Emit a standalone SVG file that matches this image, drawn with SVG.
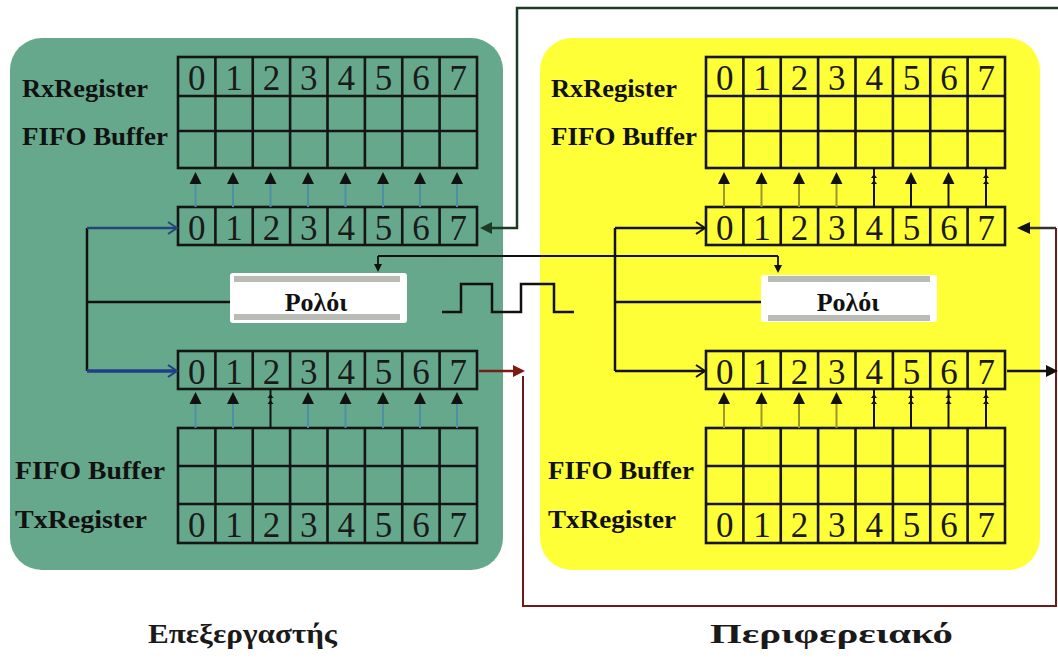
<svg xmlns="http://www.w3.org/2000/svg" xmlns:xlink="http://www.w3.org/1999/xlink" width="1058" height="658" viewBox="0 0 1058 658">
<style>
.grid{fill:none;stroke:#151515;stroke-width:2.6}
.num{font-family:"Liberation Serif","Times New Roman",serif;font-size:35px;fill:#1a1a1a;text-anchor:middle}
.lbl{font-family:"Liberation Serif","Times New Roman",serif;font-size:25px;font-weight:bold;fill:#111}
.clk{font-family:"Liberation Serif","Times New Roman",serif;font-size:26px;font-weight:bold;fill:#111;text-anchor:middle}
.title{font-family:"Liberation Serif","Times New Roman",serif;font-size:27px;font-weight:bold;fill:#1a1a1a}
.wire{fill:none;stroke:#111;stroke-width:2.5}
.band{fill:#b9bcb4}
.head{fill:#111}
</style>
<defs>
<g id="colsTall">
<path fill="none" stroke="#151515" stroke-width="2.6" d="M37.4 0V111M74.75 0V111M112.1 0V111M149.5 0V111M186.9 0V111M224.25 0V111M261.6 0V111"/>
</g>
<g id="colsShort">
<path fill="none" stroke="#151515" stroke-width="2.6" d="M37.4 0V38M74.75 0V38M112.1 0V38M149.5 0V38M186.9 0V38M224.25 0V38M261.6 0V38"/>
</g>
<g id="bigArrow"><polygon fill="#111" points="0,0 -6,12 6,12"/></g>
<g id="smallArrow"><path d="M-3,2 L0,-2 L3,2 Z M-3,8 L0,4 L3,8 Z" fill="#111"/></g>
</defs>
<rect width="1058" height="658" fill="#ffffff"/>

<g id="cpu-panel">
<rect x="10" y="38" width="493" height="532" rx="32" fill="#66a88c"/>
</g>
<g id="periph-panel">
<rect x="540" y="38" width="500" height="532" rx="32" fill="#ffff38"/>
</g>

<!-- CPU side -->
<g id="cpu-rx">
<rect class="grid" x="178" y="57" width="299" height="111"/>
<path class="grid" d="M178 96H477M178 131H477"/>
<use xlink:href="#colsTall" x="178" y="57"/>
<g class="num"><text x="196.7" y="90">0</text><text x="234.1" y="90">1</text><text x="271.4" y="90">2</text><text x="308.8" y="90">3</text><text x="346.2" y="90">4</text><text x="383.6" y="90">5</text><text x="420.9" y="90">6</text><text x="458.3" y="90">7</text></g>
<text class="lbl" x="22" y="97" textLength="126" lengthAdjust="spacingAndGlyphs">RxRegister</text>
<text class="lbl" x="22" y="145" textLength="146" lengthAdjust="spacingAndGlyphs">FIFO Buffer</text>
</g>
<g id="cpu-rx-shift">
<rect class="grid" x="178" y="207" width="299" height="38"/>
<use xlink:href="#colsShort" x="178" y="207"/>
<g class="num"><text x="196.7" y="240">0</text><text x="234.1" y="240">1</text><text x="271.4" y="240">2</text><text x="308.8" y="240">3</text><text x="346.2" y="240">4</text><text x="383.6" y="240">5</text><text x="420.9" y="240">6</text><text x="458.3" y="240">7</text></g>
</g>
<g id="cpu-clock">
<rect x="230" y="273" width="177" height="50" rx="3" fill="#ffffff"/>
<rect class="band" x="234" y="276" width="166" height="6"/>
<rect class="band" x="234" y="314" width="166" height="6"/>
<text class="clk" x="316" y="311">Ρολόι</text>
</g>
<g id="cpu-tx-shift">
<rect class="grid" x="178" y="351" width="299" height="38"/>
<use xlink:href="#colsShort" x="178" y="351"/>
<g class="num"><text x="196.7" y="384">0</text><text x="234.1" y="384">1</text><text x="271.4" y="384">2</text><text x="308.8" y="384">3</text><text x="346.2" y="384">4</text><text x="383.6" y="384">5</text><text x="420.9" y="384">6</text><text x="458.3" y="384">7</text></g>
</g>
<g id="cpu-tx">
<rect class="grid" x="178" y="428" width="299" height="115"/>
<path class="grid" d="M178 466H477M178 504H477"/>
<path class="grid" d="M215.4 428V543M252.75 428V543M290.1 428V543M327.5 428V543M364.9 428V543M402.25 428V543M439.6 428V543"/>
<g class="num"><text x="196.7" y="537">0</text><text x="234.1" y="537">1</text><text x="271.4" y="537">2</text><text x="308.8" y="537">3</text><text x="346.2" y="537">4</text><text x="383.6" y="537">5</text><text x="420.9" y="537">6</text><text x="458.3" y="537">7</text></g>
<text class="lbl" x="15" y="479" textLength="150" lengthAdjust="spacingAndGlyphs">FIFO Buffer</text>
<text class="lbl" x="15" y="528" textLength="132" lengthAdjust="spacingAndGlyphs">TxRegister</text>
</g>

<!-- Peripheral side -->
<g id="periph-rx">
<rect class="grid" x="706" y="57" width="299" height="111"/>
<path class="grid" d="M706 96H1005M706 131H1005"/>
<use xlink:href="#colsTall" x="706" y="57"/>
<g class="num"><text x="724.7" y="90">0</text><text x="762.1" y="90">1</text><text x="799.4" y="90">2</text><text x="836.8" y="90">3</text><text x="874.2" y="90">4</text><text x="911.6" y="90">5</text><text x="948.9" y="90">6</text><text x="986.3" y="90">7</text></g>
<text class="lbl" x="551" y="97" textLength="126" lengthAdjust="spacingAndGlyphs">RxRegister</text>
<text class="lbl" x="551" y="145" textLength="146" lengthAdjust="spacingAndGlyphs">FIFO Buffer</text>
</g>
<g id="periph-rx-shift">
<rect class="grid" x="706" y="207" width="299" height="38"/>
<use xlink:href="#colsShort" x="706" y="207"/>
<g class="num"><text x="724.7" y="240">0</text><text x="762.1" y="240">1</text><text x="799.4" y="240">2</text><text x="836.8" y="240">3</text><text x="874.2" y="240">4</text><text x="911.6" y="240">5</text><text x="948.9" y="240">6</text><text x="986.3" y="240">7</text></g>
</g>
<g id="periph-clock">
<rect x="761" y="275" width="176" height="47" rx="3" fill="#ffffff"/>
<rect class="band" x="768" y="276" width="162" height="6"/>
<rect class="band" x="768" y="315" width="162" height="6"/>
<text class="clk" x="848" y="311">Ρολόι</text>
</g>
<g id="periph-tx-shift">
<rect class="grid" x="706" y="351" width="299" height="38"/>
<use xlink:href="#colsShort" x="706" y="351"/>
<g class="num"><text x="724.7" y="384">0</text><text x="762.1" y="384">1</text><text x="799.4" y="384">2</text><text x="836.8" y="384">3</text><text x="874.2" y="384">4</text><text x="911.6" y="384">5</text><text x="948.9" y="384">6</text><text x="986.3" y="384">7</text></g>
</g>
<g id="periph-tx">
<rect class="grid" x="706" y="428" width="299" height="115"/>
<path class="grid" d="M706 466H1005M706 504H1005"/>
<path class="grid" d="M743.4 428V543M780.75 428V543M818.1 428V543M855.5 428V543M892.9 428V543M930.25 428V543M967.6 428V543"/>
<g class="num"><text x="724.7" y="537">0</text><text x="762.1" y="537">1</text><text x="799.4" y="537">2</text><text x="836.8" y="537">3</text><text x="874.2" y="537">4</text><text x="911.6" y="537">5</text><text x="948.9" y="537">6</text><text x="986.3" y="537">7</text></g>
<text class="lbl" x="548" y="479" textLength="146" lengthAdjust="spacingAndGlyphs">FIFO Buffer</text>
<text class="lbl" x="548" y="528" textLength="128" lengthAdjust="spacingAndGlyphs">TxRegister</text>
</g>

<g id="clock-wave">
<path d="M442 312H461V284H492V312H521V284H554V312H574" fill="none" stroke="#111" stroke-width="2.5"/>
</g>

<g id="titles">
<text class="title" x="148" y="643" textLength="189" lengthAdjust="spacingAndGlyphs">Επεξεργαστής</text>
<text class="title" x="710" y="643" textLength="243" lengthAdjust="spacingAndGlyphs">Περιφερειακό</text>
</g>

<g id="connectors">
<g stroke="#4f8fa6" stroke-width="2">
<path d="M195.5 184V207M233 184V207M270.5 184V207M308 184V207M345.5 184V207M383 184V207M420 184V207M457 184V207"/>
<path d="M195.5 404V428M233 404V428M308 404V428M345.5 404V428M383 404V428M420 404V428M457 404V428"/>
</g>
<path d="M270.5 389V428" stroke="#111" stroke-width="2"/>
<use xlink:href="#bigArrow" x="195.5" y="172"/><use xlink:href="#bigArrow" x="233" y="172"/><use xlink:href="#bigArrow" x="270.5" y="172"/><use xlink:href="#bigArrow" x="308" y="172"/><use xlink:href="#bigArrow" x="345.5" y="172"/><use xlink:href="#bigArrow" x="383" y="172"/><use xlink:href="#bigArrow" x="420" y="172"/><use xlink:href="#bigArrow" x="457" y="172"/>
<use xlink:href="#bigArrow" x="195.5" y="392"/><use xlink:href="#bigArrow" x="233" y="392"/><use xlink:href="#smallArrow" x="270.5" y="396"/><use xlink:href="#bigArrow" x="308" y="392"/><use xlink:href="#bigArrow" x="345.5" y="392"/><use xlink:href="#bigArrow" x="383" y="392"/><use xlink:href="#bigArrow" x="420" y="392"/><use xlink:href="#bigArrow" x="457" y="392"/>

<g stroke="#9a9a2a" stroke-width="2">
<path d="M724 184V207M761.5 184V207M799 184V207M836.5 184V207"/>
<path d="M724 404V428M761.5 404V428M799 404V428M836.5 404V428"/>
</g>
<g stroke="#111" stroke-width="2">
<path d="M874 168V207M911 184V207M948.5 184V207M986 168V207"/>
<path d="M874 389V428M911 389V428M948.5 389V428M986 389V428"/>
</g>
<use xlink:href="#bigArrow" x="724" y="172"/><use xlink:href="#bigArrow" x="761.5" y="172"/><use xlink:href="#bigArrow" x="799" y="172"/><use xlink:href="#bigArrow" x="836.5" y="172"/><use xlink:href="#smallArrow" x="874" y="176"/><use xlink:href="#bigArrow" x="911" y="172"/><use xlink:href="#bigArrow" x="948.5" y="172"/><use xlink:href="#smallArrow" x="986" y="176"/>
<use xlink:href="#bigArrow" x="724" y="392"/><use xlink:href="#bigArrow" x="761.5" y="392"/><use xlink:href="#bigArrow" x="799" y="392"/><use xlink:href="#bigArrow" x="836.5" y="392"/><use xlink:href="#smallArrow" x="874" y="396"/><use xlink:href="#smallArrow" x="911" y="396"/><use xlink:href="#smallArrow" x="948.5" y="396"/><use xlink:href="#smallArrow" x="986" y="396"/>

<path d="M87 228V371" class="wire"/>
<path d="M87 302H230" class="wire"/>
<path d="M87 228H176" fill="none" stroke="#24457a" stroke-width="2.5"/>
<path d="M87 371H176" fill="none" stroke="#1f3f86" stroke-width="3.5"/>
<path d="M168 222L177 228L168 234" fill="none" stroke="#24457a" stroke-width="2"/>
<path d="M168 365L177 371L168 377" fill="none" stroke="#1f3f86" stroke-width="2"/>

<path d="M615 228V371" class="wire"/>
<path d="M615 302H761" class="wire"/>
<path d="M615 228H704M615 371H704" class="wire"/>
<path d="M696 222L705 228L696 234M696 365L705 371L696 377" fill="none" stroke="#111" stroke-width="2"/>

<path d="M378 256H778M378 256V266M778 256V266" fill="none" stroke="#111" stroke-width="1.8"/>
<polygon class="head" points="374,264 382,264 378,272"/>
<polygon class="head" points="774,265 782,265 778,273"/>

<path d="M1058 8H517V228H490" fill="none" stroke="#1d3a24" stroke-width="2.5"/>
<polygon points="480,228 492,222 492,234" fill="#1d3a24"/>

<path d="M479 371H514" fill="none" stroke="#7a1c16" stroke-width="2.5"/>
<polygon points="525,371 513,365 513,377" fill="#7a1c16"/>
<path d="M523 376V606H1056V228" fill="none" stroke="#6e1b18" stroke-width="2"/>
<path d="M1056 228H1028" fill="none" stroke="#333" stroke-width="2.5"/>
<polygon points="1017,228 1030,222 1030,234" fill="#111"/>

<path d="M1007 371H1048" fill="none" stroke="#111" stroke-width="2.5"/>
<polygon points="1058,371 1046,365 1046,377" fill="#111"/>
</g>
</svg>
